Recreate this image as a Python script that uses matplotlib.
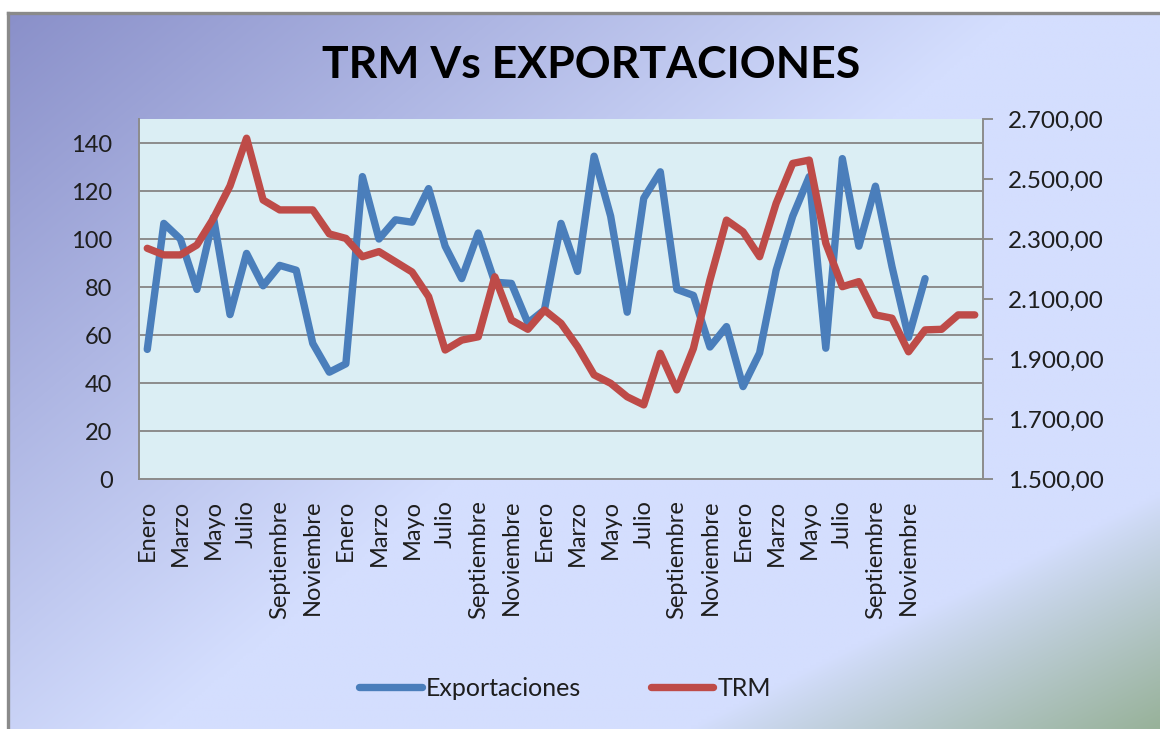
import numpy as np
import matplotlib
matplotlib.use("Agg")
import matplotlib.pyplot as plt
from matplotlib.lines import Line2D
from matplotlib.ticker import FuncFormatter

# ---------------- data ----------------
meses = ["Enero", "Febrero", "Marzo", "Abril", "Mayo", "Junio", "Julio",
         "Agosto", "Septiembre", "Octubre", "Noviembre", "Diciembre"]
categorias = meses * 4 + ["", "", ""]

exportaciones = [54, 106.5, 100, 79, 109, 68.5, 94, 80.5, 89, 87, 56.5, 44.5,
                 48, 126, 100, 108, 107, 121, 97, 83.5, 102.5, 82, 81.5, 65,
                 70.5, 106.5, 86.5, 134.5, 109.5, 69.5, 117, 128, 79, 76.5, 55, 63.5,
                 38.5, 52.5, 87, 109.5, 126, 54.5, 133.5, 97, 122, 88.5, 59, 83.5]

trm = [2269, 2247, 2247, 2280, 2369, 2477, 2636, 2430, 2397, 2397, 2397, 2317,
       2302, 2241, 2258, 2224, 2190, 2108, 1930, 1963, 1974, 2174, 2030, 1999,
       2063, 2019, 1941, 1847, 1819, 1774, 1747, 1919, 1797, 1935, 2163, 2363,
       2324, 2241, 2419, 2552, 2563, 2286, 2141, 2158, 2047, 2036, 1924, 1997,
       1999, 2047, 2047]

left_ticks = [0, 20, 40, 60, 80, 100, 120, 140]
right_ticks = [1500, 1700, 1900, 2100, 2300, 2500, 2700]

titulo = "TRM Vs EXPORTACIONES"
serie1 = "Exportaciones"
serie2 = "TRM"

# ---------------- style ----------------
plt.rcParams['font.family'] = ['Lato', 'DejaVu Sans']
txt_color = "#1e1e1e"
grid_color = "#8c8c8c"
blue = "#4a7ebb"
red = "#be4b48"

W, H = 1160, 729
fig = plt.figure(figsize=(W / 100, H / 100), dpi=100)
fig.patch.set_facecolor("white")

# background gradient (chart area)
bx0, by1 = 8, 13
bg = fig.add_axes([bx0 / W, 0, 1 - bx0 / W, 1 - by1 / H], zorder=0)
ny, nx = 240, 360
yy, xx = np.mgrid[0:ny, 0:nx]
px = bx0 + xx / (nx - 1) * (W - bx0)
py = by1 + yy / (ny - 1) * (H - by1)
s = np.clip((px + 1.2 * py) / 1030, 0, 1)
c0 = np.array([136, 142, 200]) / 255
c1 = np.array([212, 222, 254]) / 255
img = c0 + (c1 - c0) * s[..., None]
g = np.clip((px + 2 * py - 2150) / 468, 0, 1) ** 0.9
cg = np.array([152, 178, 154]) / 255
img = img + (cg - img) * g[..., None]
bg.imshow(img, aspect='auto', extent=[0, 1, 0, 1], origin='upper', interpolation='bilinear')
bg.axis('off')

fig.add_artist(Line2D([bx0 / W, bx0 / W], [0, 1 - by1 / H], color="#8a8a8a", lw=2.4, zorder=1))
fig.add_artist(Line2D([bx0 / W, 1], [1 - by1 / H, 1 - by1 / H], color="#8a8a8a", lw=2.4, zorder=1))

# main axes
ax = fig.add_axes([139 / W, 1 - 479 / H, (983 - 139) / W, (479 - 119) / H], zorder=2)
ax.set_facecolor("#dbeef4")
x = np.arange(len(categorias))

l1, = ax.plot(x[:len(exportaciones)], exportaciones, color=blue, lw=5.3,
              solid_capstyle='round', solid_joinstyle='round', label=serie1, zorder=3)
ax.set_xlim(-0.5, len(categorias) - 0.5)
ax.set_ylim(0, 150)
ax.set_yticks(left_ticks)
ax.yaxis.grid(True, color=grid_color, lw=1.4)
ax.set_axisbelow(True)
ax.set_xticks(x[::2])
ax.set_xticklabels(categorias[::2], rotation=90, fontsize=17, color=txt_color, va='top', ha='center')
ax.tick_params(axis='x', length=0, pad=15)
ax.tick_params(axis='y', length=0, pad=19, labelsize=17, labelcolor=txt_color)
for sp in ["top", "right"]:
    ax.spines[sp].set_visible(False)
for sp in ["left", "bottom"]:
    ax.spines[sp].set_color(grid_color)
    ax.spines[sp].set_linewidth(1.4)

ax2 = ax.twinx()
l2, = ax2.plot(x[:len(trm)], trm, color=red, lw=5.3,
               solid_capstyle='round', solid_joinstyle='round', label=serie2, zorder=3)
ax2.set_ylim(1500, 2700)
ax2.set_yticks(right_ticks)


def fmt(v, pos):
    s_ = f"{v:,.2f}"
    return s_.replace(",", "X").replace(".", ",").replace("X", ".")


ax2.yaxis.set_major_formatter(FuncFormatter(fmt))
ax2.tick_params(axis='y', length=7, width=1.4, color=grid_color, pad=11,
                labelsize=17.5, labelcolor=txt_color)
for sp in ["top", "left", "bottom"]:
    ax2.spines[sp].set_visible(False)
ax2.spines["right"].set_color(grid_color)
ax2.spines["right"].set_linewidth(1.4)

# title
fig.text(591 / W, 1 - 65 / H, titulo, ha='center', va='center', fontsize=32,
         fontweight='bold', color="#000000")

# legend
leg = fig.legend([l1, l2], [serie1, serie2], loc='center', bbox_to_anchor=(565 / W, 1 - 688 / H),
                 ncol=2, frameon=False, fontsize=18, handlelength=2.5, handletextpad=0.15,
                 columnspacing=2.8)
for t in leg.get_texts():
    t.set_color(txt_color)

fig.savefig("out.png", dpi=100)
